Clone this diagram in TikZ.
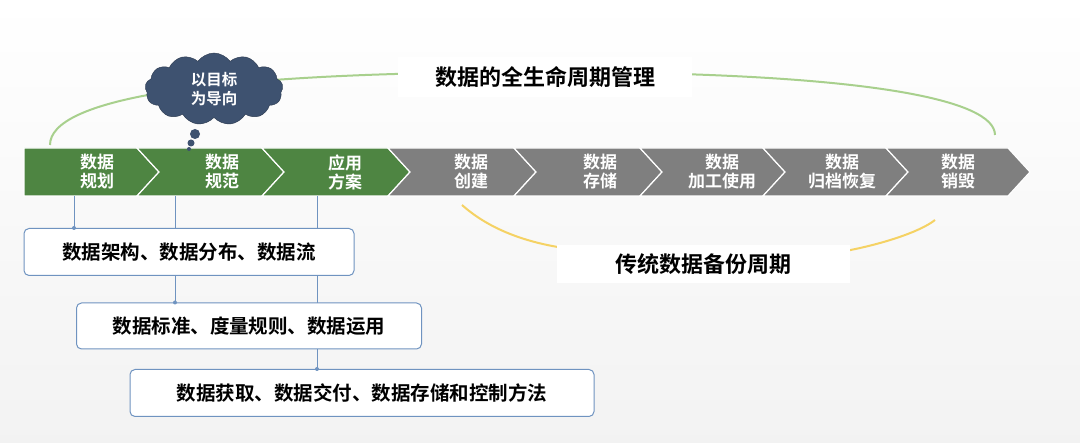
\documentclass[tikz,border=0pt]{standalone}
\usepackage{fontspec}
\setmainfont{Noto Sans CJK SC}[BoldFont={* Bold}]
\newfontfamily\cjk{Noto Sans CJK SC Bold}
\usetikzlibrary{shapes.symbols}
\definecolor{grn}{HTML}{4E8542}
\definecolor{gry}{HTML}{7F7F7F}
\definecolor{navy}{HTML}{3E5270}
\definecolor{bl}{HTML}{6F93C0}
\definecolor{arcg}{HTML}{A8D08D}
\definecolor{arcy}{HTML}{F5D264}
\begin{document}
\begin{tikzpicture}[x=1pt,y=-1pt,
  lab/.style={text=white,font=\cjk\fontsize{17}{19}\selectfont,align=center},
  box/.style={draw=bl,line width=1pt,rounded corners=5pt,fill=white,font=\cjk\fontsize{19.5}{21}\selectfont,text=black},
  ttl/.style={fill=white,font=\cjk\fontsize{22}{24}\selectfont,text=black},
  conn/.style={draw=bl,line width=0.9pt},
  dot/.style={circle,fill=bl,inner sep=0pt,minimum size=4pt}]
\shade[top color=white,bottom color=white!90!gray] (0,0) rectangle (1080,443);
\useasboundingbox (0,0) rectangle (1080,443);
% arcs
\draw[arcg,line width=2pt] (50,145) .. controls (50,100) and (200,72) .. (540,72) .. controls (870,72) and (995,100) .. (995,135);
\draw[arcy,line width=2pt] (462,205) .. controls (490,230) and (530,245) .. (580,250);
\draw[arcy,line width=2pt] (840,252) .. controls (880,245) and (920,232) .. (935,220);
\node[ttl,minimum width=294pt,minimum height=40pt] (t1) at (545,77) {数据的全生命周期管理};
\node[ttl,minimum width=293pt,minimum height=38pt] (t2) at (703,264) {传统数据备份周期};
% chevrons
\def\T{148}\def\B{196}\def\M{172}\def\D{22}
\fill[grn,draw=white,line width=1.2pt] (24,\T) -- (137,\T) -- (137+\D,\M) -- (137,\B) -- (24,\B) -- cycle;
\foreach \a/\b/\c in {137/262/grn,262/388/grn,388/514/gry,514/640/gry,640/763/gry,763/886/gry}{
  \fill[\c,draw=white,line width=1.2pt] (\a,\T) -- (\b,\T) -- (\b+\D,\M) -- (\b,\B) -- (\a,\B) -- (\a+\D,\M) -- cycle;}
\fill[gry,draw=white,line width=1.2pt] (886,\T) -- (1008,\T) -- (1030,\M) -- (1008,\B) -- (886,\B) -- (886+\D,\M) -- cycle;
\node[lab] (s1) at (97,172) {数据\\规划};
\node[lab] (s2) at (222,172) {数据\\规范};
\node[lab] (s3) at (345,172) {应用\\方案};
\node[lab] (s4) at (471,172) {数据\\创建};
\node[lab] (s5) at (600,172) {数据\\存储};
\node[lab] (s6) at (722,172) {数据\\加工使用};
\node[lab] (s7) at (842,172) {数据\\归档恢复};
\node[lab] (s8) at (958,172) {数据\\销毁};
% cloud
\node[cloud,cloud puffs=13,cloud puff arc=110,aspect=1.8,fill=navy,draw=navy!70!black,minimum width=138pt,minimum height=72pt,inner sep=0pt,text=white,font=\cjk\fontsize{15.5}{19}\selectfont,align=center] (cl) at (214,89) {以目标\\为导向};
\fill[navy] (195,134) circle (5pt);
\fill[navy] (191,143) circle (3.5pt);
\fill[navy] (189,149) circle (2pt);
% connectors
\coordinate (c1) at (74,196);
\coordinate (c2) at (175,196);
\coordinate (c3) at (317,196);
\draw[conn] (c2) -- (175,303);
\draw[conn] (c3) -- (317,369);
\node[box,minimum width=330pt,minimum height=47pt] (b1) at (189,252) {数据架构、数据分布、数据流};
\node[box,minimum width=345pt,minimum height=46pt] (b2) at (249,326) {数据标准、度量规则、数据运用};
\node[box,minimum width=464pt,minimum height=47pt] (b3) at (362,393) {数据获取、数据交付、数据存储和控制方法};
\draw[conn] (c1) -- (c1 |- b1.north);
\node[dot] at (c1 |- b1.north) {};
\node[dot] at (c2 |- b2.north) {};
\node[dot] at (c3 |- b3.north) {};
\end{tikzpicture}
\end{document}
